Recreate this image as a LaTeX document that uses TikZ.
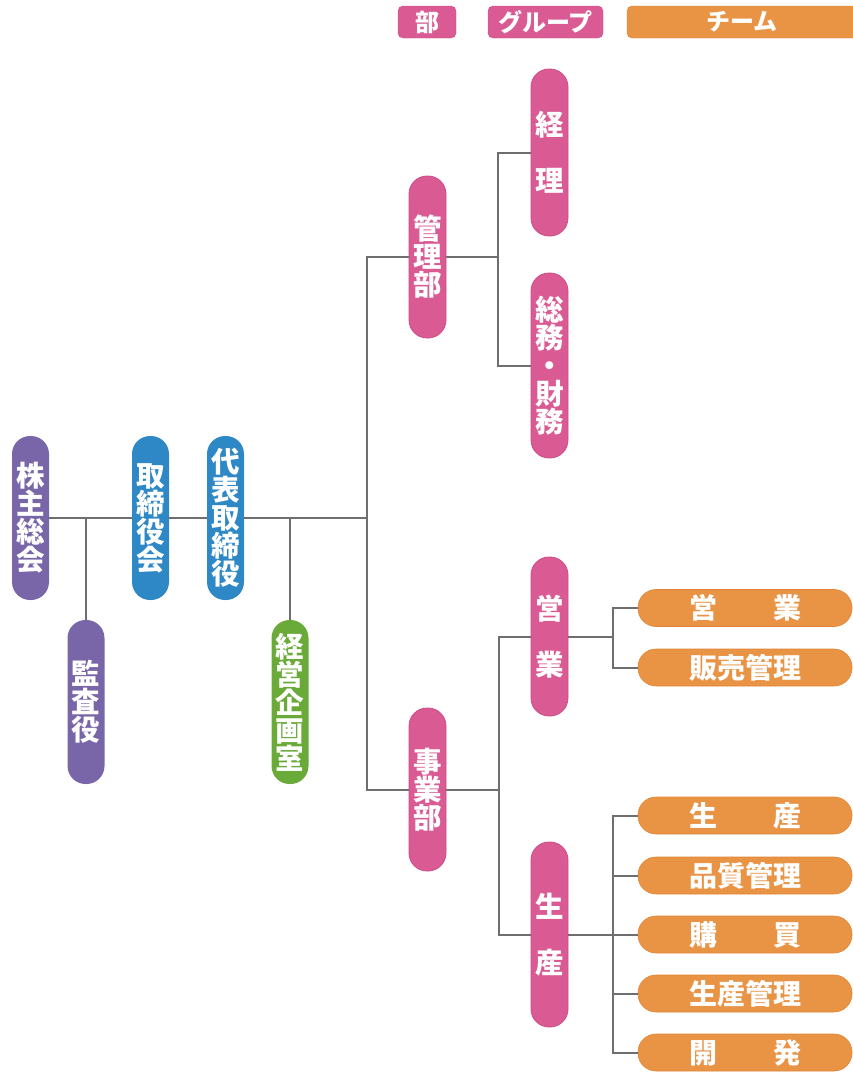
\documentclass[tikz,border=0pt]{standalone}
\usepackage{fontspec}
\setmainfont{Noto Sans CJK JP}
\definecolor{cpurple}{HTML}{7966A8}
\definecolor{cblue}{HTML}{2F88C6}
\definecolor{cgreen}{HTML}{69AA38}
\definecolor{cpink}{HTML}{DA5B93}
\definecolor{cpinkd}{HTML}{CC4A86}
\definecolor{corange}{HTML}{E99345}
\definecolor{coranged}{HTML}{E08535}
\definecolor{cline}{HTML}{6E6E6E}
\tikzset{
  vbox/.style={rectangle, rounded corners=18pt, minimum width=37pt, inner sep=0pt,
    text=white, align=center, font=\bfseries\fontsize{28.5}{28}\selectfont},
  pbox/.style={vbox, fill=cpink, draw=cpinkd, line width=0.8pt},
  tbox/.style={rectangle, rounded corners=18pt, minimum width=214pt, minimum height=37pt,
    inner sep=0pt, fill=corange, draw=coranged, line width=0.6pt, text=white,
    font=\bfseries\fontsize{28}{28}\selectfont},
  legbox/.style={rectangle, rounded corners=5pt, minimum height=32pt, inner sep=0pt,
    text=white, font=\bfseries\fontsize{24}{24}\selectfont},
  conn/.style={draw=cline, line width=2pt},
}
\begin{document}
\begin{tikzpicture}[x=1pt,y=-1pt]
\useasboundingbox (0,0) rectangle (853,1072);
% legend
\node[legbox, fill=cpink, draw=cpinkd, minimum width=58pt] (lbu) at (427,22) {部};
\node[legbox, fill=cpink, draw=cpinkd, minimum width=115pt] (lgr) at (545.5,22) {グループ};
\node[legbox, fill=corange, draw=coranged, minimum width=236pt] (ltm) at (745,22) {\hspace*{-6pt}チーム};
% left chain
\node[vbox, fill=cpurple, minimum height=164pt] (kabu) at (30.5,518) {株\\主\\総\\会};
\node[vbox, fill=cpurple, minimum height=164pt] (kansa) at (86,702) {監\\査\\役};
\node[vbox, fill=cblue, minimum height=164pt] (tori) at (150.5,518) {取\\締\\役\\会};
\node[vbox, fill=cblue, minimum height=164pt] (daihyo) at (225.5,518) {代\\表\\取\\締\\役};
\node[vbox, fill=cgreen, minimum height=164pt] (keiei) at (290,702) {経\\営\\企\\画\\室};
% departments
\node[pbox, minimum height=162pt] (kanri) at (427.5,257) {管\\理\\部};
\node[pbox, minimum height=163pt] (jigyo) at (427.5,789.5) {事\\業\\部};
% groups
\node[pbox, minimum height=167pt] (keiri) at (549.5,152.5) {経\\[28pt]理};
\node[pbox, minimum height=185pt] (somu) at (549.5,365.5) {総\\務\\・\\財\\務};
\node[pbox, minimum height=159pt] (eigyo) at (549.5,636.5) {営\\[28pt]業};
\node[pbox, minimum height=185pt] (seisan) at (549.5,934.5) {生\\[28pt]産};
% teams
\node[tbox] (t1) at (745,608) {営\hspace{2em}業};
\node[tbox] (t2) at (745,667.5) {販売管理};
\node[tbox] (t3) at (745,815.5) {生\hspace{2em}産};
\node[tbox] (t4) at (745,875.5) {品質管理};
\node[tbox] (t5) at (745,934.5) {購\hspace{2em}買};
\node[tbox] (t6) at (745,993.5) {生産管理};
\node[tbox] (t7) at (745,1052.5) {開\hspace{2em}発};
% junction coordinates
\coordinate (sp0) at (367,518);
\coordinate (sp1) at (498,0);
\coordinate (sp2) at (499,0);
\coordinate (sp3) at (613,0);
% connectors
\begin{scope}[conn]
\draw (kabu.east) -- (tori.west);
\draw (tori.east) -- (daihyo.west);
\draw (daihyo.east) -- (sp0);
\draw (kansa.north) -- (kansa.north |- kabu.east);
\draw (keiei.north) -- (keiei.north |- daihyo.east);
\draw (kanri.west) -- (kanri.west -| sp0) -- (jigyo.west -| sp0) -- (jigyo.west);
\draw (kanri.east) -- (kanri.east -| sp1);
\draw (keiri.west) -- (keiri.west -| sp1) -- (somu.west -| sp1) -- (somu.west);
\draw (jigyo.east) -- (jigyo.east -| sp2);
\draw (eigyo.west) -- (eigyo.west -| sp2) -- (seisan.west -| sp2) -- (seisan.west);
\draw (eigyo.east) -- (eigyo.east -| sp3);
\draw (t1.west) -- (t1.west -| sp3) -- (t2.west -| sp3) -- (t2.west);
\draw (seisan.east) -- (seisan.east -| sp3);
\draw (t3.west) -- (t3.west -| sp3) -- (t7.west -| sp3) -- (t7.west);
\draw (t4.west) -- (t4.west -| sp3);
\draw (t5.west) -- (t5.west -| sp3);
\draw (t6.west) -- (t6.west -| sp3);
\end{scope}
\end{tikzpicture}
\end{document}
